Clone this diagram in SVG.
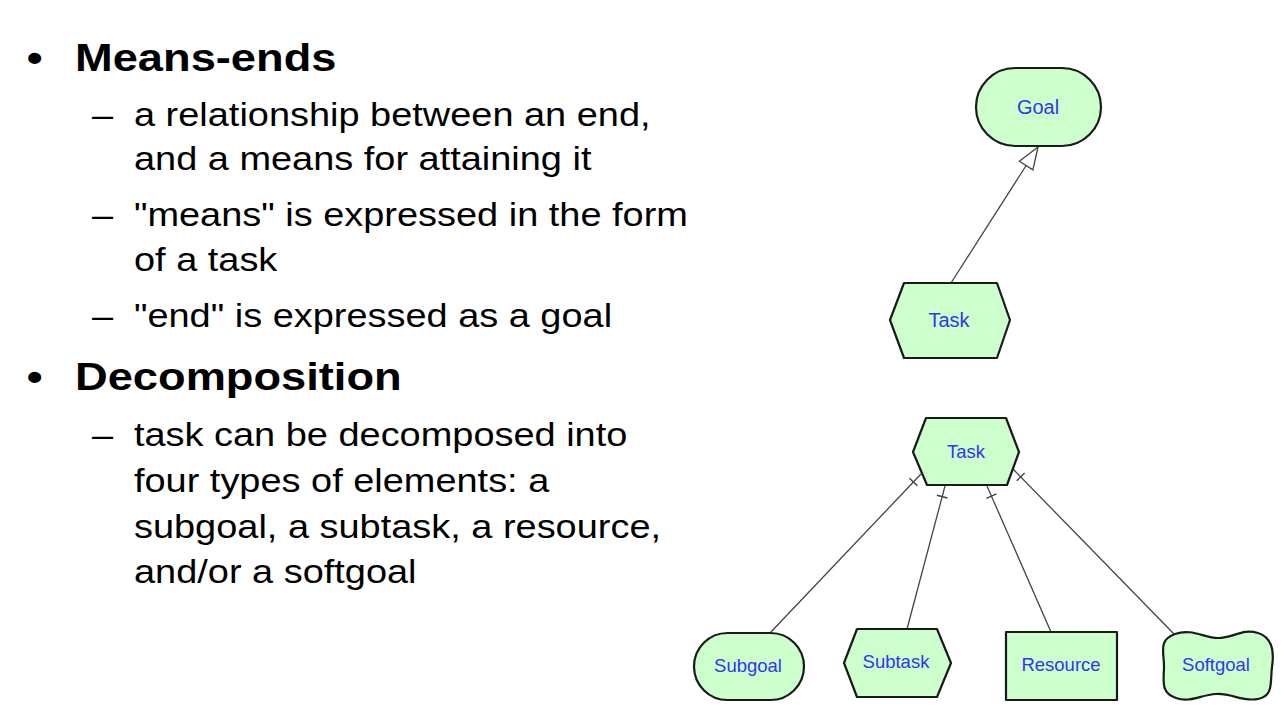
<svg xmlns="http://www.w3.org/2000/svg" width="1281" height="722" viewBox="0 0 1281 722">
  <style>
    .head { font-family: "Liberation Sans", Arial, sans-serif; font-size: 39px; font-weight: bold; fill: #000; }
    .body { font-family: "Liberation Sans", Arial, sans-serif; font-size: 32.7px; fill: #000; }
    .node { fill: #ccffcc; stroke: #1a1a1a; stroke-width: 2.2; stroke-linejoin: round; }
    .lbl { font-family: "Liberation Sans", Arial, sans-serif; font-size: 18.5px; fill: #3535f0; text-anchor: middle; }
    .lbl-lg { font-size: 20px; }
    .link { stroke: #444; stroke-width: 1.3; fill: none; }
  </style>
  <defs>
    <!-- open triangle arrowhead for means-ends links -->
    <marker id="meansEnd" markerUnits="userSpaceOnUse" viewBox="-24 -10 26 20" refX="0" refY="0" markerWidth="26" markerHeight="20" orient="auto">
      <path d="M0,0 L-22,-8 L-22,8 Z" fill="#fff" stroke="#444" stroke-width="1.3" stroke-linejoin="miter"/>
    </marker>
    <!-- cross bar near the parent end of decomposition links -->
    <marker id="decomp" markerUnits="userSpaceOnUse" viewBox="-2 -8 20 16" refX="0" refY="0" markerWidth="20" markerHeight="16" orient="auto">
      <path d="M11,-5.5 L11,5.5" stroke="#444" stroke-width="1.4"/>
    </marker>
  </defs>

  <rect width="1281" height="722" fill="#fff"/>

  <!-- slide text -->
  <g id="text" transform="scale(1.16 1)">
    <text class="head" x="23" y="71">•</text>
    <text class="head" x="64.7" y="71">Means-ends</text>
    <text class="body" x="79.3" y="126">–</text>
    <text class="body" x="115.5" y="126">a relationship between an end,</text>
    <text class="body" x="115.5" y="170">and a means for attaining it</text>
    <text class="body" x="79.3" y="226">–</text>
    <text class="body" x="115.5" y="226">"means" is expressed in the form</text>
    <text class="body" x="115.5" y="271">of a task</text>
    <text class="body" x="79.3" y="327">–</text>
    <text class="body" x="115.5" y="327">"end" is expressed as a goal</text>
    <text class="head" x="23" y="390">•</text>
    <text class="head" x="64.7" y="390">Decomposition</text>
    <text class="body" x="79.3" y="446">–</text>
    <text class="body" x="115.5" y="446">task can be decomposed into</text>
    <text class="body" x="115.5" y="492">four types of elements: a</text>
    <text class="body" x="115.5" y="538">subgoal, a subtask, a resource,</text>
    <text class="body" x="115.5" y="583">and/or a softgoal</text>
  </g>

  <!-- connectors -->
  <g id="connectors">
    <line class="link" x1="951" y1="283" x2="1038" y2="147" marker-end="url(#meansEnd)"/>
    <line class="link" x1="921" y1="474" x2="770" y2="633" marker-start="url(#decomp)"/>
    <line class="link" x1="945" y1="486" x2="907" y2="629" marker-start="url(#decomp)"/>
    <line class="link" x1="987" y1="486" x2="1051" y2="632" marker-start="url(#decomp)"/>
    <line class="link" x1="1013" y1="469" x2="1174" y2="634" marker-start="url(#decomp)"/>
  </g>

  <!-- goal -->
  <g id="goal">
    <rect class="node" x="976" y="68" width="125" height="78" rx="39" ry="39"/>
    <text class="lbl lbl-lg" x="1038" y="114">Goal</text>
  </g>

  <!-- means task -->
  <g id="task-means">
    <polygon class="node" points="904,283 997,283 1010,320 997,358 904,358 890,320"/>
    <text class="lbl lbl-lg" x="949" y="327">Task</text>
  </g>

  <!-- decomposed task -->
  <g id="task-parent">
    <polygon class="node" points="926,418 1006,418 1019,452 1007,485 927,485 913,452"/>
    <text class="lbl" x="966" y="458">Task</text>
  </g>

  <!-- subgoal -->
  <g id="subgoal">
    <rect class="node" x="694" y="633" width="110" height="67" rx="33.5" ry="33.5"/>
    <text class="lbl" x="748" y="672">Subgoal</text>
  </g>

  <!-- subtask -->
  <g id="subtask">
    <polygon class="node" points="857,629 937,629 951,663 937,697 857,697 844,663"/>
    <text class="lbl" x="896" y="668">Subtask</text>
  </g>

  <!-- resource -->
  <g id="resource">
    <rect class="node" x="1006" y="632" width="111" height="68"/>
    <text class="lbl" x="1061" y="671">Resource</text>
  </g>

  <!-- softgoal -->
  <g id="softgoal">
    <path class="node" d="M1175,634 C1192,628 1204,638 1218,638 C1234,638 1242,628 1258,633 C1274,638 1274,654 1272,667 C1270,682 1274,696 1258,699 C1242,702 1232,693 1216,694 C1200,695 1190,703 1176,698 C1160,693 1164,680 1164,666 C1164,652 1158,640 1175,634 Z"/>
    <text class="lbl" x="1216" y="671">Softgoal</text>
  </g>
</svg>
